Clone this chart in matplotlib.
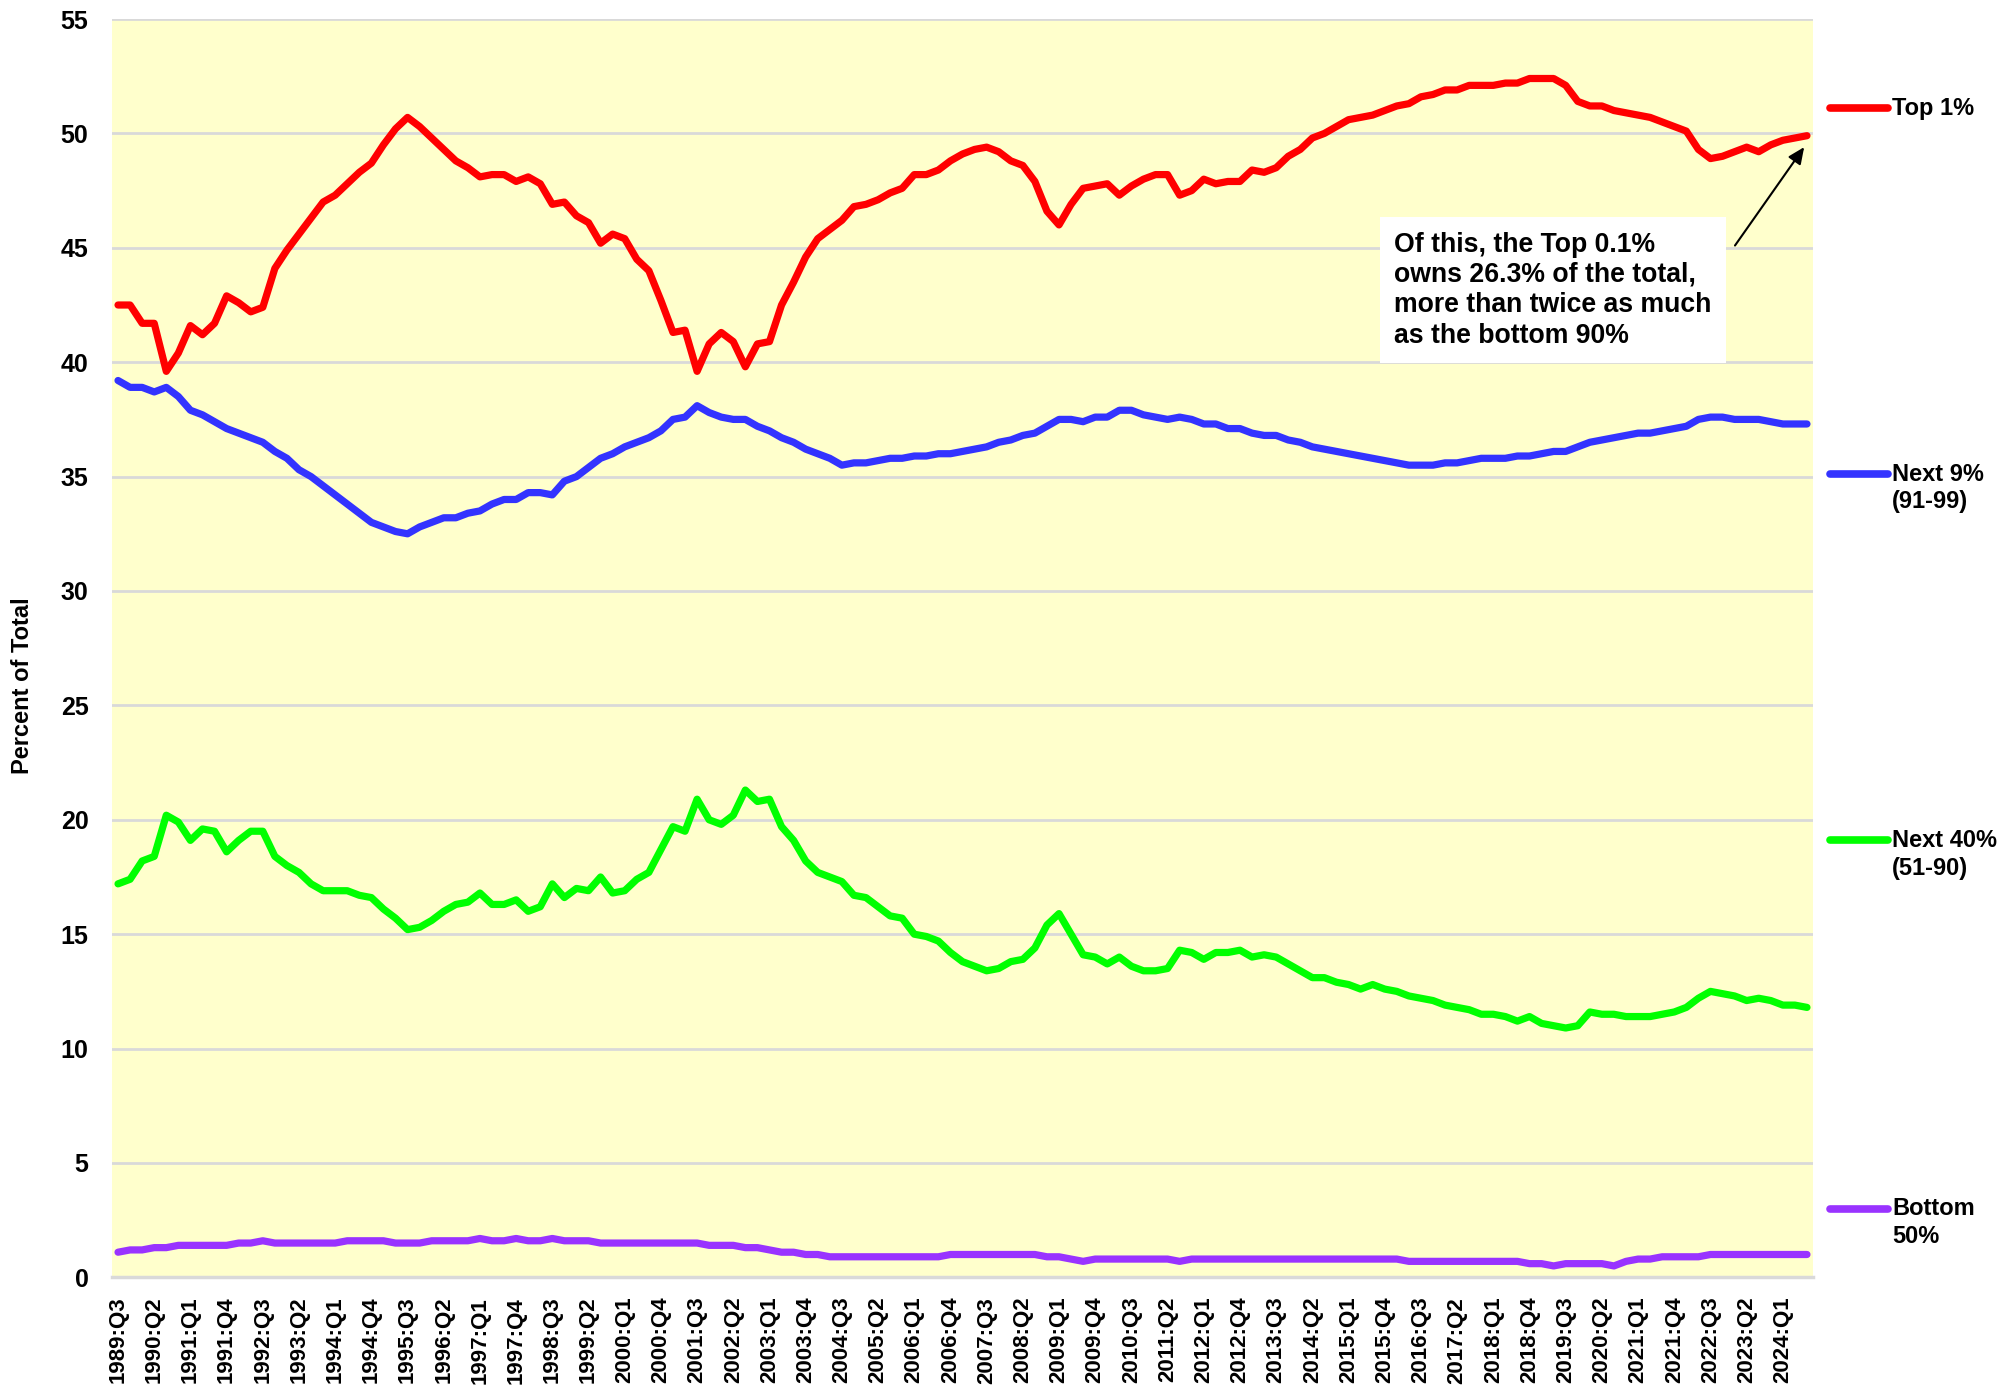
import matplotlib
matplotlib.use("Agg")
import matplotlib.pyplot as plt
import numpy as np

# ---------------- data ----------------
start_year, start_q, n_quarters = 1989, 3, 141
quarters = []
y, q = start_year, start_q
for _ in range(n_quarters):
    quarters.append(f"{y}:Q{q}")
    q += 1
    if q > 4:
        q = 1
        y += 1

top1 = [42.5, 42.5, 41.7, 41.7, 39.6, 40.4, 41.6, 41.2, 41.7, 42.9,
        42.6, 42.2, 42.4, 44.1, 44.9, 45.6, 46.3, 47.0, 47.3, 47.8,
        48.3, 48.7, 49.5, 50.2, 50.7, 50.3, 49.8, 49.3, 48.8, 48.5,
        48.1, 48.2, 48.2, 47.9, 48.1, 47.8, 46.9, 47.0, 46.4, 46.1,
        45.2, 45.6, 45.4, 44.5, 44.0, 42.7, 41.3, 41.4, 39.6, 40.8,
        41.3, 40.9, 39.8, 40.8, 40.9, 42.5, 43.5, 44.6, 45.4, 45.8,
        46.2, 46.8, 46.9, 47.1, 47.4, 47.6, 48.2, 48.2, 48.4, 48.8,
        49.1, 49.3, 49.4, 49.2, 48.8, 48.6, 47.9, 46.6, 46.0, 46.9,
        47.6, 47.7, 47.8, 47.3, 47.7, 48.0, 48.2, 48.2, 47.3, 47.5,
        48.0, 47.8, 47.9, 47.9, 48.4, 48.3, 48.5, 49.0, 49.3, 49.8,
        50.0, 50.3, 50.6, 50.7, 50.8, 51.0, 51.2, 51.3, 51.6, 51.7,
        51.9, 51.9, 52.1, 52.1, 52.1, 52.2, 52.2, 52.4, 52.4, 52.4,
        52.1, 51.4, 51.2, 51.2, 51.0, 50.9, 50.8, 50.7, 50.5, 50.3,
        50.1, 49.3, 48.9, 49.0, 49.2, 49.4, 49.2, 49.5, 49.7, 49.8,
        49.9]

next9 = [39.2, 38.9, 38.9, 38.7, 38.9, 38.5, 37.9, 37.7, 37.4, 37.1,
         36.9, 36.7, 36.5, 36.1, 35.8, 35.3, 35.0, 34.6, 34.2, 33.8,
         33.4, 33.0, 32.8, 32.6, 32.5, 32.8, 33.0, 33.2, 33.2, 33.4,
         33.5, 33.8, 34.0, 34.0, 34.3, 34.3, 34.2, 34.8, 35.0, 35.4,
         35.8, 36.0, 36.3, 36.5, 36.7, 37.0, 37.5, 37.6, 38.1, 37.8,
         37.6, 37.5, 37.5, 37.2, 37.0, 36.7, 36.5, 36.2, 36.0, 35.8,
         35.5, 35.6, 35.6, 35.7, 35.8, 35.8, 35.9, 35.9, 36.0, 36.0,
         36.1, 36.2, 36.3, 36.5, 36.6, 36.8, 36.9, 37.2, 37.5, 37.5,
         37.4, 37.6, 37.6, 37.9, 37.9, 37.7, 37.6, 37.5, 37.6, 37.5,
         37.3, 37.3, 37.1, 37.1, 36.9, 36.8, 36.8, 36.6, 36.5, 36.3,
         36.2, 36.1, 36.0, 35.9, 35.8, 35.7, 35.6, 35.5, 35.5, 35.5,
         35.6, 35.6, 35.7, 35.8, 35.8, 35.8, 35.9, 35.9, 36.0, 36.1,
         36.1, 36.3, 36.5, 36.6, 36.7, 36.8, 36.9, 36.9, 37.0, 37.1,
         37.2, 37.5, 37.6, 37.6, 37.5, 37.5, 37.5, 37.4, 37.3, 37.3,
         37.3]

next40 = [17.2, 17.4, 18.2, 18.4, 20.2, 19.9, 19.1, 19.6, 19.5, 18.6,
          19.1, 19.5, 19.5, 18.4, 18.0, 17.7, 17.2, 16.9, 16.9, 16.9,
          16.7, 16.6, 16.1, 15.7, 15.2, 15.3, 15.6, 16.0, 16.3, 16.4,
          16.8, 16.3, 16.3, 16.5, 16.0, 16.2, 17.2, 16.6, 17.0, 16.9,
          17.5, 16.8, 16.9, 17.4, 17.7, 18.7, 19.7, 19.5, 20.9, 20.0,
          19.8, 20.2, 21.3, 20.8, 20.9, 19.7, 19.1, 18.2, 17.7, 17.5,
          17.3, 16.7, 16.6, 16.2, 15.8, 15.7, 15.0, 14.9, 14.7, 14.2,
          13.8, 13.6, 13.4, 13.5, 13.8, 13.9, 14.4, 15.4, 15.9, 15.0,
          14.1, 14.0, 13.7, 14.0, 13.6, 13.4, 13.4, 13.5, 14.3, 14.2,
          13.9, 14.2, 14.2, 14.3, 14.0, 14.1, 14.0, 13.7, 13.4, 13.1,
          13.1, 12.9, 12.8, 12.6, 12.8, 12.6, 12.5, 12.3, 12.2, 12.1,
          11.9, 11.8, 11.7, 11.5, 11.5, 11.4, 11.2, 11.4, 11.1, 11.0,
          10.9, 11.0, 11.6, 11.5, 11.5, 11.4, 11.4, 11.4, 11.5, 11.6,
          11.8, 12.2, 12.5, 12.4, 12.3, 12.1, 12.2, 12.1, 11.9, 11.9,
          11.8]

bottom50 = [1.1, 1.2, 1.2, 1.3, 1.3, 1.4, 1.4, 1.4, 1.4, 1.4,
            1.5, 1.5, 1.6, 1.5, 1.5, 1.5, 1.5, 1.5, 1.5, 1.6,
            1.6, 1.6, 1.6, 1.5, 1.5, 1.5, 1.6, 1.6, 1.6, 1.6,
            1.7, 1.6, 1.6, 1.7, 1.6, 1.6, 1.7, 1.6, 1.6, 1.6,
            1.5, 1.5, 1.5, 1.5, 1.5, 1.5, 1.5, 1.5, 1.5, 1.4,
            1.4, 1.4, 1.3, 1.3, 1.2, 1.1, 1.1, 1.0, 1.0, 0.9,
            0.9, 0.9, 0.9, 0.9, 0.9, 0.9, 0.9, 0.9, 0.9, 1.0,
            1.0, 1.0, 1.0, 1.0, 1.0, 1.0, 1.0, 0.9, 0.9, 0.8,
            0.7, 0.8, 0.8, 0.8, 0.8, 0.8, 0.8, 0.8, 0.7, 0.8,
            0.8, 0.8, 0.8, 0.8, 0.8, 0.8, 0.8, 0.8, 0.8, 0.8,
            0.8, 0.8, 0.8, 0.8, 0.8, 0.8, 0.8, 0.7, 0.7, 0.7,
            0.7, 0.7, 0.7, 0.7, 0.7, 0.7, 0.7, 0.6, 0.6, 0.5,
            0.6, 0.6, 0.6, 0.6, 0.5, 0.7, 0.8, 0.8, 0.9, 0.9,
            0.9, 0.9, 1.0, 1.0, 1.0, 1.0, 1.0, 1.0, 1.0, 1.0,
            1.0]

series_names = ["Top 1%", "Next 9%\n(91-99)", "Next 40%\n(51-90)", "Bottom\n50%"]
series_values = [top1, next9, next40, bottom50]
series_colors = ["#FF0000", "#3333FF", "#00FF00", "#9933FF"]
legend_values = [51.1, 35.1, 19.1, 3.0]

yticks = list(range(0, 56, 5))
annotation_text = ("Of this, the Top 0.1%\nowns 26.3% of the total,\n"
                   "more than twice as much\nas the bottom 90%")

# ---------------- figure ----------------
plt.rcParams['font.family'] = ['Liberation Sans', 'DejaVu Sans']
plt.rcParams['font.weight'] = 'bold'

fig = plt.figure(figsize=(20, 13.88), dpi=100)
ax = fig.add_axes([0.056, 0.0797, 0.8505, 0.9066])
ax.set_facecolor("#FFFFCC")

x = np.arange(len(quarters))
for vals, col in zip(series_values, series_colors):
    ax.plot(x, vals, color=col, lw=5.2, solid_joinstyle='round',
            solid_capstyle='round', zorder=3)

ax.set_xlim(-0.5, len(quarters) - 0.5)
ax.set_ylim(0, 55)
ax.set_yticks(yticks)
ax.set_yticklabels([str(t) for t in yticks], fontsize=18, fontweight='bold')
ax.tick_params(axis='y', length=0, pad=17)
ax.grid(axis='y', color='#D9D9D9', lw=2.0, zorder=1)
ax.set_axisbelow(True)

tick_idx = list(range(0, len(quarters), 3))
ax.set_xticks(tick_idx)
ax.set_xticklabels([quarters[i] for i in tick_idx], rotation=90,
                   fontsize=16, fontweight='bold', va='top', ha='center')
ax.tick_params(axis='x', length=0, pad=14)

for side in ['left', 'right', 'top']:
    ax.spines[side].set_visible(False)
ax.spines['bottom'].set_color('#D9D9D9')
ax.spines['bottom'].set_linewidth(2.5)

ax.set_ylabel("Percent of Total", fontsize=17, fontweight='bold')
ax.yaxis.set_label_coords(-0.046, 0.47)

# legend-like labels on the right
for name, col, lv in zip(series_names, series_colors, legend_values):
    yf = lv / 55.0
    ax.plot([1.0099, 1.0440], [yf, yf], transform=ax.transAxes, color=col,
            lw=5.5, solid_capstyle='round', clip_on=False)
    lines = name.split("\n")
    ax.text(1.0465, yf, lines[0], transform=ax.transAxes, fontsize=17,
            fontweight='bold', va='center', ha='left')
    if len(lines) > 1:
        ax.text(1.0465, yf - 0.022, lines[1], transform=ax.transAxes,
                fontsize=17, fontweight='bold', va='center', ha='left')

# annotation
ax.text(105.8, 43.15, annotation_text, fontsize=19.2, fontweight='bold',
        va='center', ha='left', linespacing=1.22, zorder=5,
        bbox=dict(boxstyle='square,pad=0.55', facecolor='white', edgecolor='none'))
ax.annotate("", xy=(139.9, 49.5), xytext=(133.9, 45.0),
            arrowprops=dict(arrowstyle='-|>,head_length=1.0,head_width=0.45',
                            color='black', lw=1.5), zorder=6)

fig.savefig("out.png", dpi=100, facecolor='white')
